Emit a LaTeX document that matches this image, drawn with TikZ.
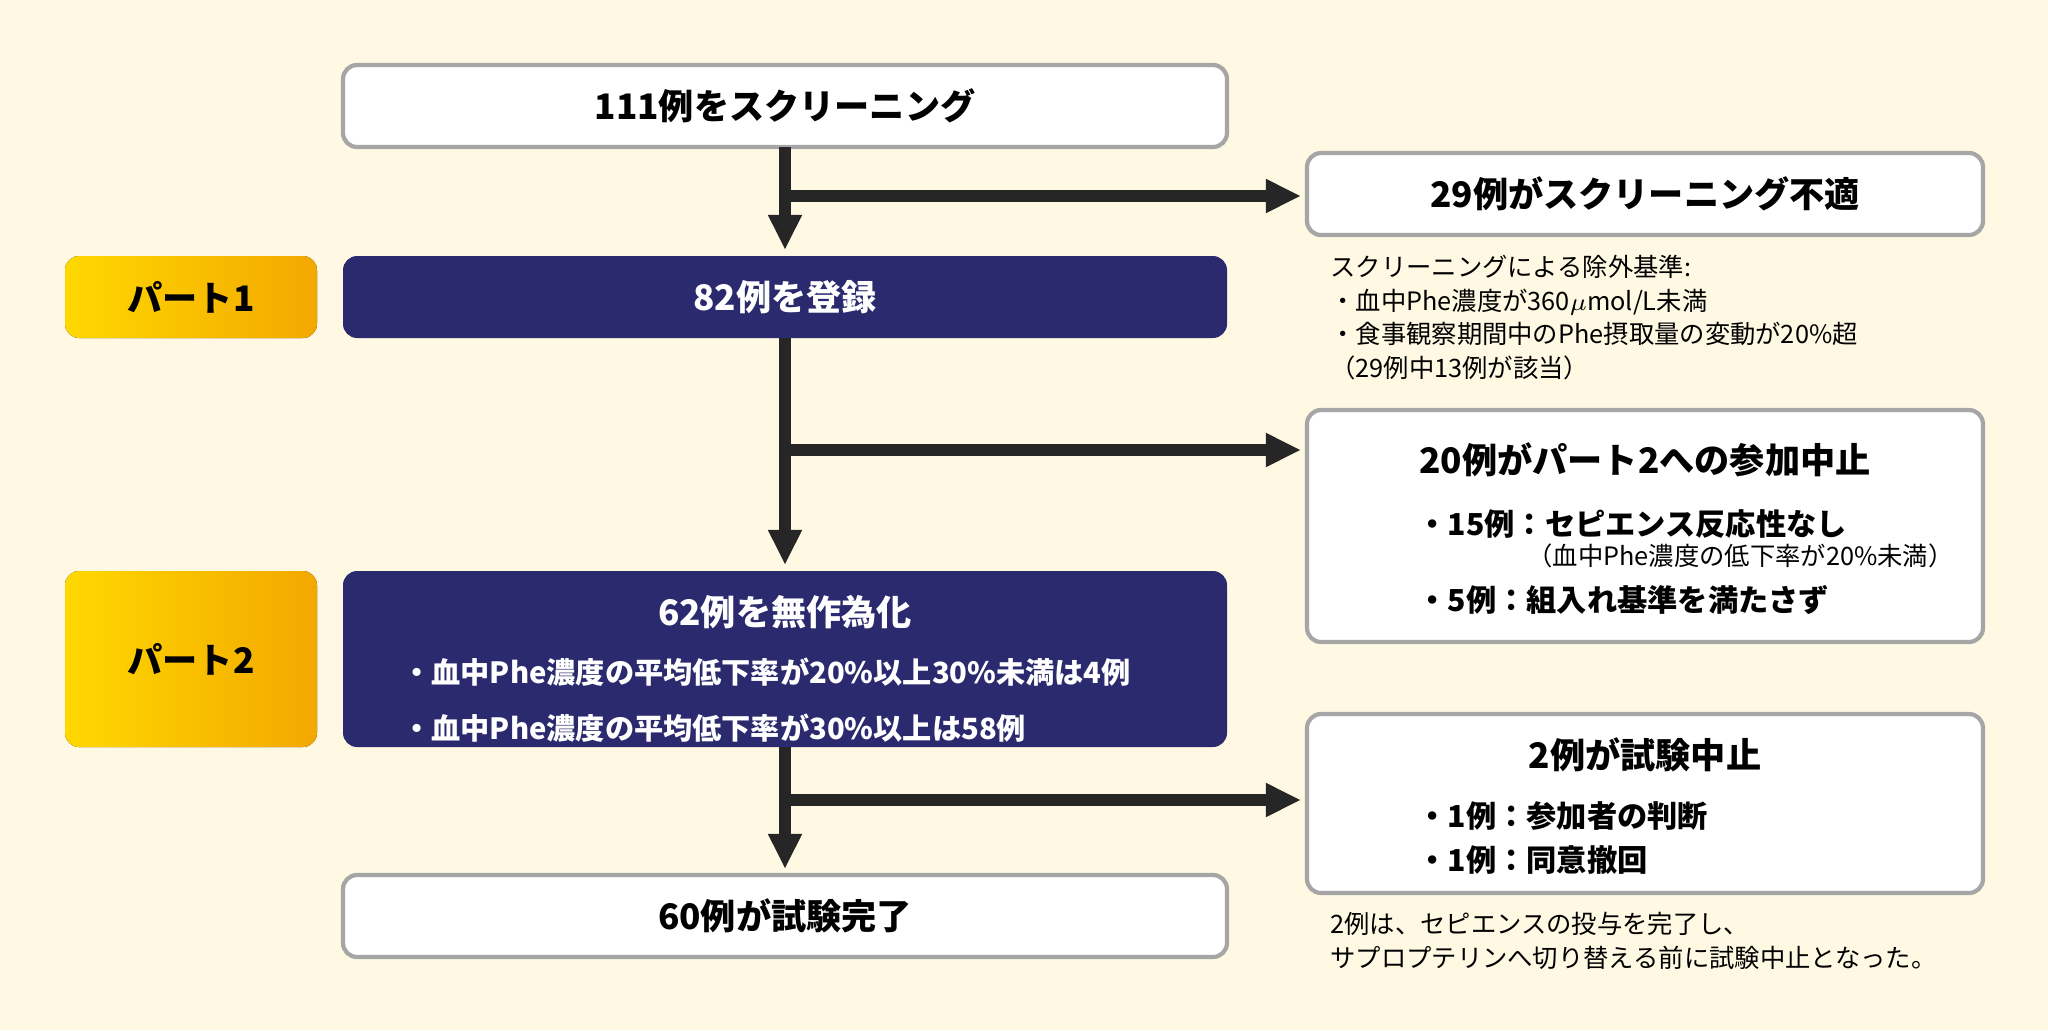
\documentclass[tikz,border=0pt]{standalone}
\usepackage{fontspec}
\setmainfont{Noto Sans CJK JP}
\newfontfamily\jpbold{Noto Sans CJK JP}[FakeBold=0,BoldFont={Noto Sans CJK JP Bold}]
\usetikzlibrary{positioning, arrows.meta}
\definecolor{bgyellow}{HTML}{FFF9E3}
\definecolor{navy}{HTML}{2B2A6E}
\definecolor{goldA}{HTML}{FFD800}
\definecolor{goldB}{HTML}{F3A800}
\tikzset{
  x=0.01cm, y=-0.01cm,
  >={Triangle[length=10pt,width=9pt]},
  whitebox/.style={draw=gray!70, line width=1.2pt, fill=white, rounded corners=4pt},
  navybox/.style={fill=navy, rounded corners=4pt, text=white},
  partbox/.style={left color=goldA, right color=goldB, rounded corners=4pt},
  flow/.style={line width=3.5pt, draw=black!85},
  title/.style={font=\bfseries\fontsize{10}{12}\selectfont},
  note/.style={font=\fontsize{7.2}{9.5}\selectfont, align=left, anchor=north west},
}
\begin{document}
\begin{tikzpicture}
\fill[bgyellow] (0,0) rectangle (2048,1030);
% left column
\draw[whitebox] (343,65) rectangle (1227,147);
\node[title] (screen) at (785,106) {111例をスクリーニング};
\fill[navybox] (343,256) rectangle (1227,338);
\node[title, text=white] (enrol) at (785,297) {82例を登録};
\fill[navybox] (343,571) rectangle (1227,747);
\node[title, text=white] (rand) at (785,612) {62例を無作為化};
\node[font=\bfseries\fontsize{8.3}{13}\selectfont, text=white, align=left, anchor=north west] (randnote) at (390,645)
  {・血中Phe濃度の平均低下率が20\%以上30\%未満は4例\\[3pt]・血中Phe濃度の平均低下率が30\%以上は58例};
\draw[whitebox] (343,875) rectangle (1227,957);
\node[title] (done) at (785,916) {60例が試験完了};
% part labels
\fill[partbox] (65,256) rectangle (317,338);
\node[title] (part1) at (191,297) {パート1};
\fill[partbox] (65,571) rectangle (317,747);
\node[title] (part2) at (191,659) {パート2};
% right column
\draw[whitebox] (1307,153) rectangle (1983,235);
\node[title] (fail) at (1645,194) {29例がスクリーニング不適};
\node[note] (failnote) at (1318,243)
  {スクリーニングによる除外基準:\\・血中Phe濃度が360$\mu$mol/L未満\\・食事観察期間中のPhe摂取量の変動が20\%超\\（29例中13例が該当）};
\draw[whitebox] (1307,410) rectangle (1983,642);
\node[title] (stop2) at (1645,460) {20例がパート2への参加中止};
\node[font=\bfseries\fontsize{8.6}{11}\selectfont, anchor=west] (r15) at (1405,524) {・15例：セピエンス反応性なし};
\node[note, anchor=west] (r15b) at (1515,556) {（血中Phe濃度の低下率が20\%未満）};
\node[font=\bfseries\fontsize{8.6}{11}\selectfont, anchor=west] (r5) at (1405,600) {・5例：組入れ基準を満たさず};
\draw[whitebox] (1307,714) rectangle (1983,893);
\node[title] (stop) at (1645,755) {2例が試験中止};
\node[font=\bfseries\fontsize{8.6}{11}\selectfont, anchor=west] (r1a) at (1405,816) {・1例：参加者の判断};
\node[font=\bfseries\fontsize{8.6}{11}\selectfont, anchor=west] (r1b) at (1405,860) {・1例：同意撤回};
\node[note] (stopnote) at (1318,900)
  {2例は、セピエンスの投与を完了し、\\サプロプテリンへ切り替える前に試験中止となった。};
% connectors
\coordinate (a1) at (785,147); \coordinate (a2) at (785,250);
\coordinate (b1) at (785,338); \coordinate (b2) at (785,565);
\coordinate (c1) at (785,747); \coordinate (c2) at (785,869);
\coordinate (h1) at (785,196); \coordinate (h1e) at (1301,196);
\coordinate (h2) at (785,450); \coordinate (h2e) at (1301,450);
\coordinate (h3) at (785,800); \coordinate (h3e) at (1301,800);
\draw[flow, ->] (a1) -- (a2);
\draw[flow, ->] (b1) -- (b2);
\draw[flow, ->] (c1) -- (c2);
\draw[flow, ->] (h1) -- (h1e);
\draw[flow, ->] (h2) -- (h2e);
\draw[flow, ->] (h3) -- (h3e);
\end{tikzpicture}
\end{document}
